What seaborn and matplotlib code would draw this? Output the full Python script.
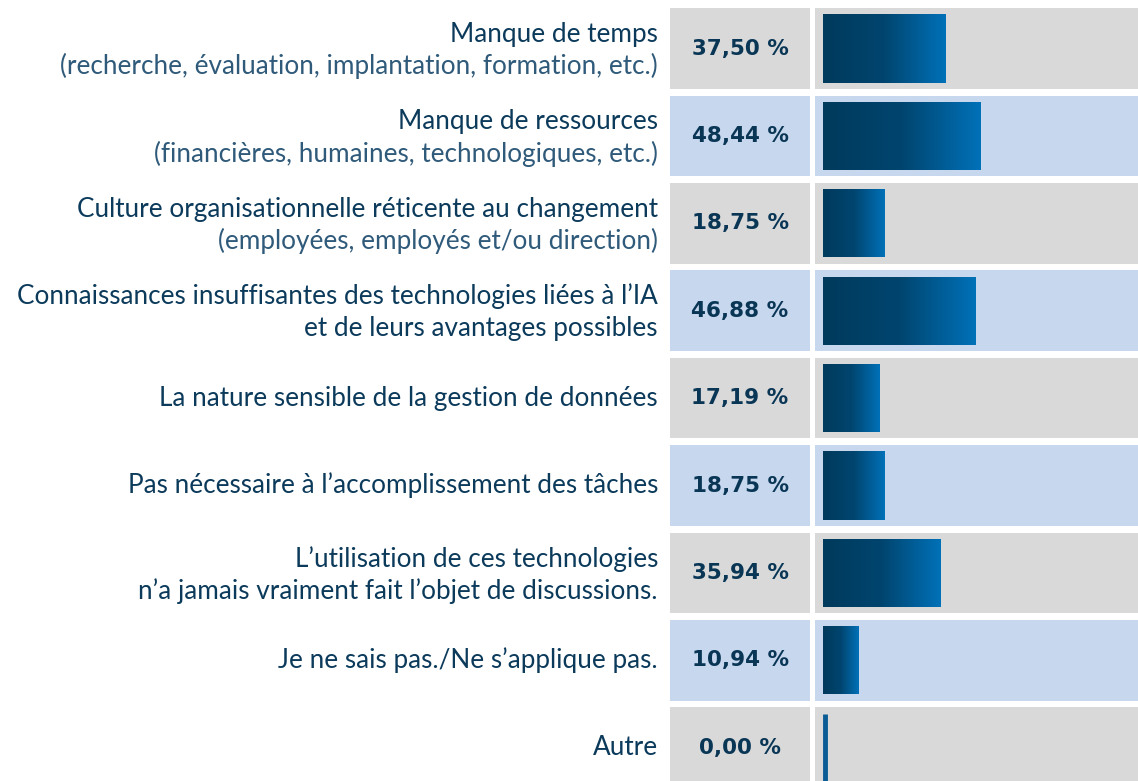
import numpy as np
import pandas as pd
import matplotlib as mpl
mpl.use("Agg")
import matplotlib.pyplot as plt
import matplotlib.transforms as mtransforms
from matplotlib.colors import LinearSegmentedColormap
import seaborn as sns

# donnees
main_lines = [
    "Manque de temps",
    "Manque de ressources",
    "Culture organisationnelle réticente au changement",
    "Connaissances insuffisantes des technologies liées à l’IA",
    "La nature sensible de la gestion de données",
    "Pas nécessaire à l’accomplissement des tâches",
    "L’utilisation de ces technologies",
    "Je ne sais pas./Ne s’applique pas.",
    "Autre",
]
sub_lines = [
    "(recherche, évaluation, implantation, formation, etc.)",
    "(financières, humaines, technologiques, etc.)",
    "(employées, employés et/ou direction)",
    "et de leurs avantages possibles",
    None,
    None,
    "n’a jamais vraiment fait l’objet de discussions.",
    None,
    None,
]
sub_light = [True, True, True, False, False, False, False, False, False]
values = [37.50, 48.44, 18.75, 46.88, 17.19, 18.75, 35.94, 10.94, 0.00]

# couleurs
navy = "#0b3a5b"
band_colors = ["#d9d9d9", "#c6d7ee"]
grad = LinearSegmentedColormap.from_list("g", ["#003a5c", "#00456f", "#0071b8"])

sns.set_style("white")
plt.rcParams["font.family"] = ["Lato", "DejaVu Sans"]

df = pd.DataFrame({"cat": main_lines, "val": values})

fig = plt.figure(figsize=(11.38, 7.81), dpi=100)
ax_pct = fig.add_axes([670 / 1138, 0, 140 / 1138, 1])
ax_bar = fig.add_axes([815 / 1138, 0, 323 / 1138, 1], sharey=ax_pct)

sns.barplot(data=df, x="val", y="cat", orient="h", width=0.78,
            color="#0071b8", ax=ax_bar, zorder=3)
bars = list(ax_bar.patches)

# limites (pixels -> unites)
pitch = 87.4
ytop = -48.5 / pitch
xlim = (-8 / 3.26, -8 / 3.26 + 323 / 3.26)

# bandes
for i in range(len(values)):
    c = band_colors[i % 2]
    ax_bar.axhspan(i - 0.46, i + 0.46, color=c, zorder=0, lw=0)
    ax_pct.axhspan(i - 0.46, i + 0.46, color=c, zorder=0, lw=0)

# barres en degrade
gradient = np.linspace(0, 1, 256).reshape(1, -1)
for p in bars:
    x0, y0 = p.get_x(), p.get_y()
    w, h = p.get_width(), p.get_height()
    if w > 0:
        im = ax_bar.imshow(gradient, cmap=grad, aspect="auto",
                           extent=(x0, x0 + w, y0 + h, y0), zorder=3)
        im.set_clip_path(p)
        p.set_facecolor("none")
        p.set_edgecolor("none")
    else:
        p.set_visible(False)
        ax_bar.vlines(x0 + 0.5, y0, y0 + h, color="#0a5c94", lw=3.5, zorder=3)
ax_bar.set_xlim(*xlim)
ax_bar.set_ylim(ytop + 781 / pitch, ytop)
ax_pct.set_xlim(0, 1)

# pourcentages
for i, v in enumerate(values):
    txt = f"{v:.2f}".replace(".", ",") + " %"
    ax_pct.text(0.5, i, txt, ha="center", va="center", fontsize=15.5,
                fontweight="bold", color="#0a3656", family="DejaVu Sans")

# etiquettes
trans = mtransforms.blended_transform_factory(ax_pct.transAxes, ax_pct.transData)
off = 16 / pitch
fs = 18.8
for i, m in enumerate(main_lines):
    s = sub_lines[i]
    if s is None:
        ax_pct.text(-12 / 140, i, m, ha="right", va="center", fontsize=fs,
                    color=navy, transform=trans)
    else:
        ax_pct.text(-12 / 140, i - off + 0.02, m, ha="right", va="center",
                    fontsize=fs, color=navy, transform=trans)
        ax_pct.text(-12 / 140, i + off + 0.02, s, ha="right", va="center",
                    fontsize=fs, transform=trans,
                    color="#2f5a7a" if sub_light[i] else navy)

for a in (ax_pct, ax_bar):
    a.set_axis_off()

fig.savefig("out.png", dpi=100, facecolor="white")
